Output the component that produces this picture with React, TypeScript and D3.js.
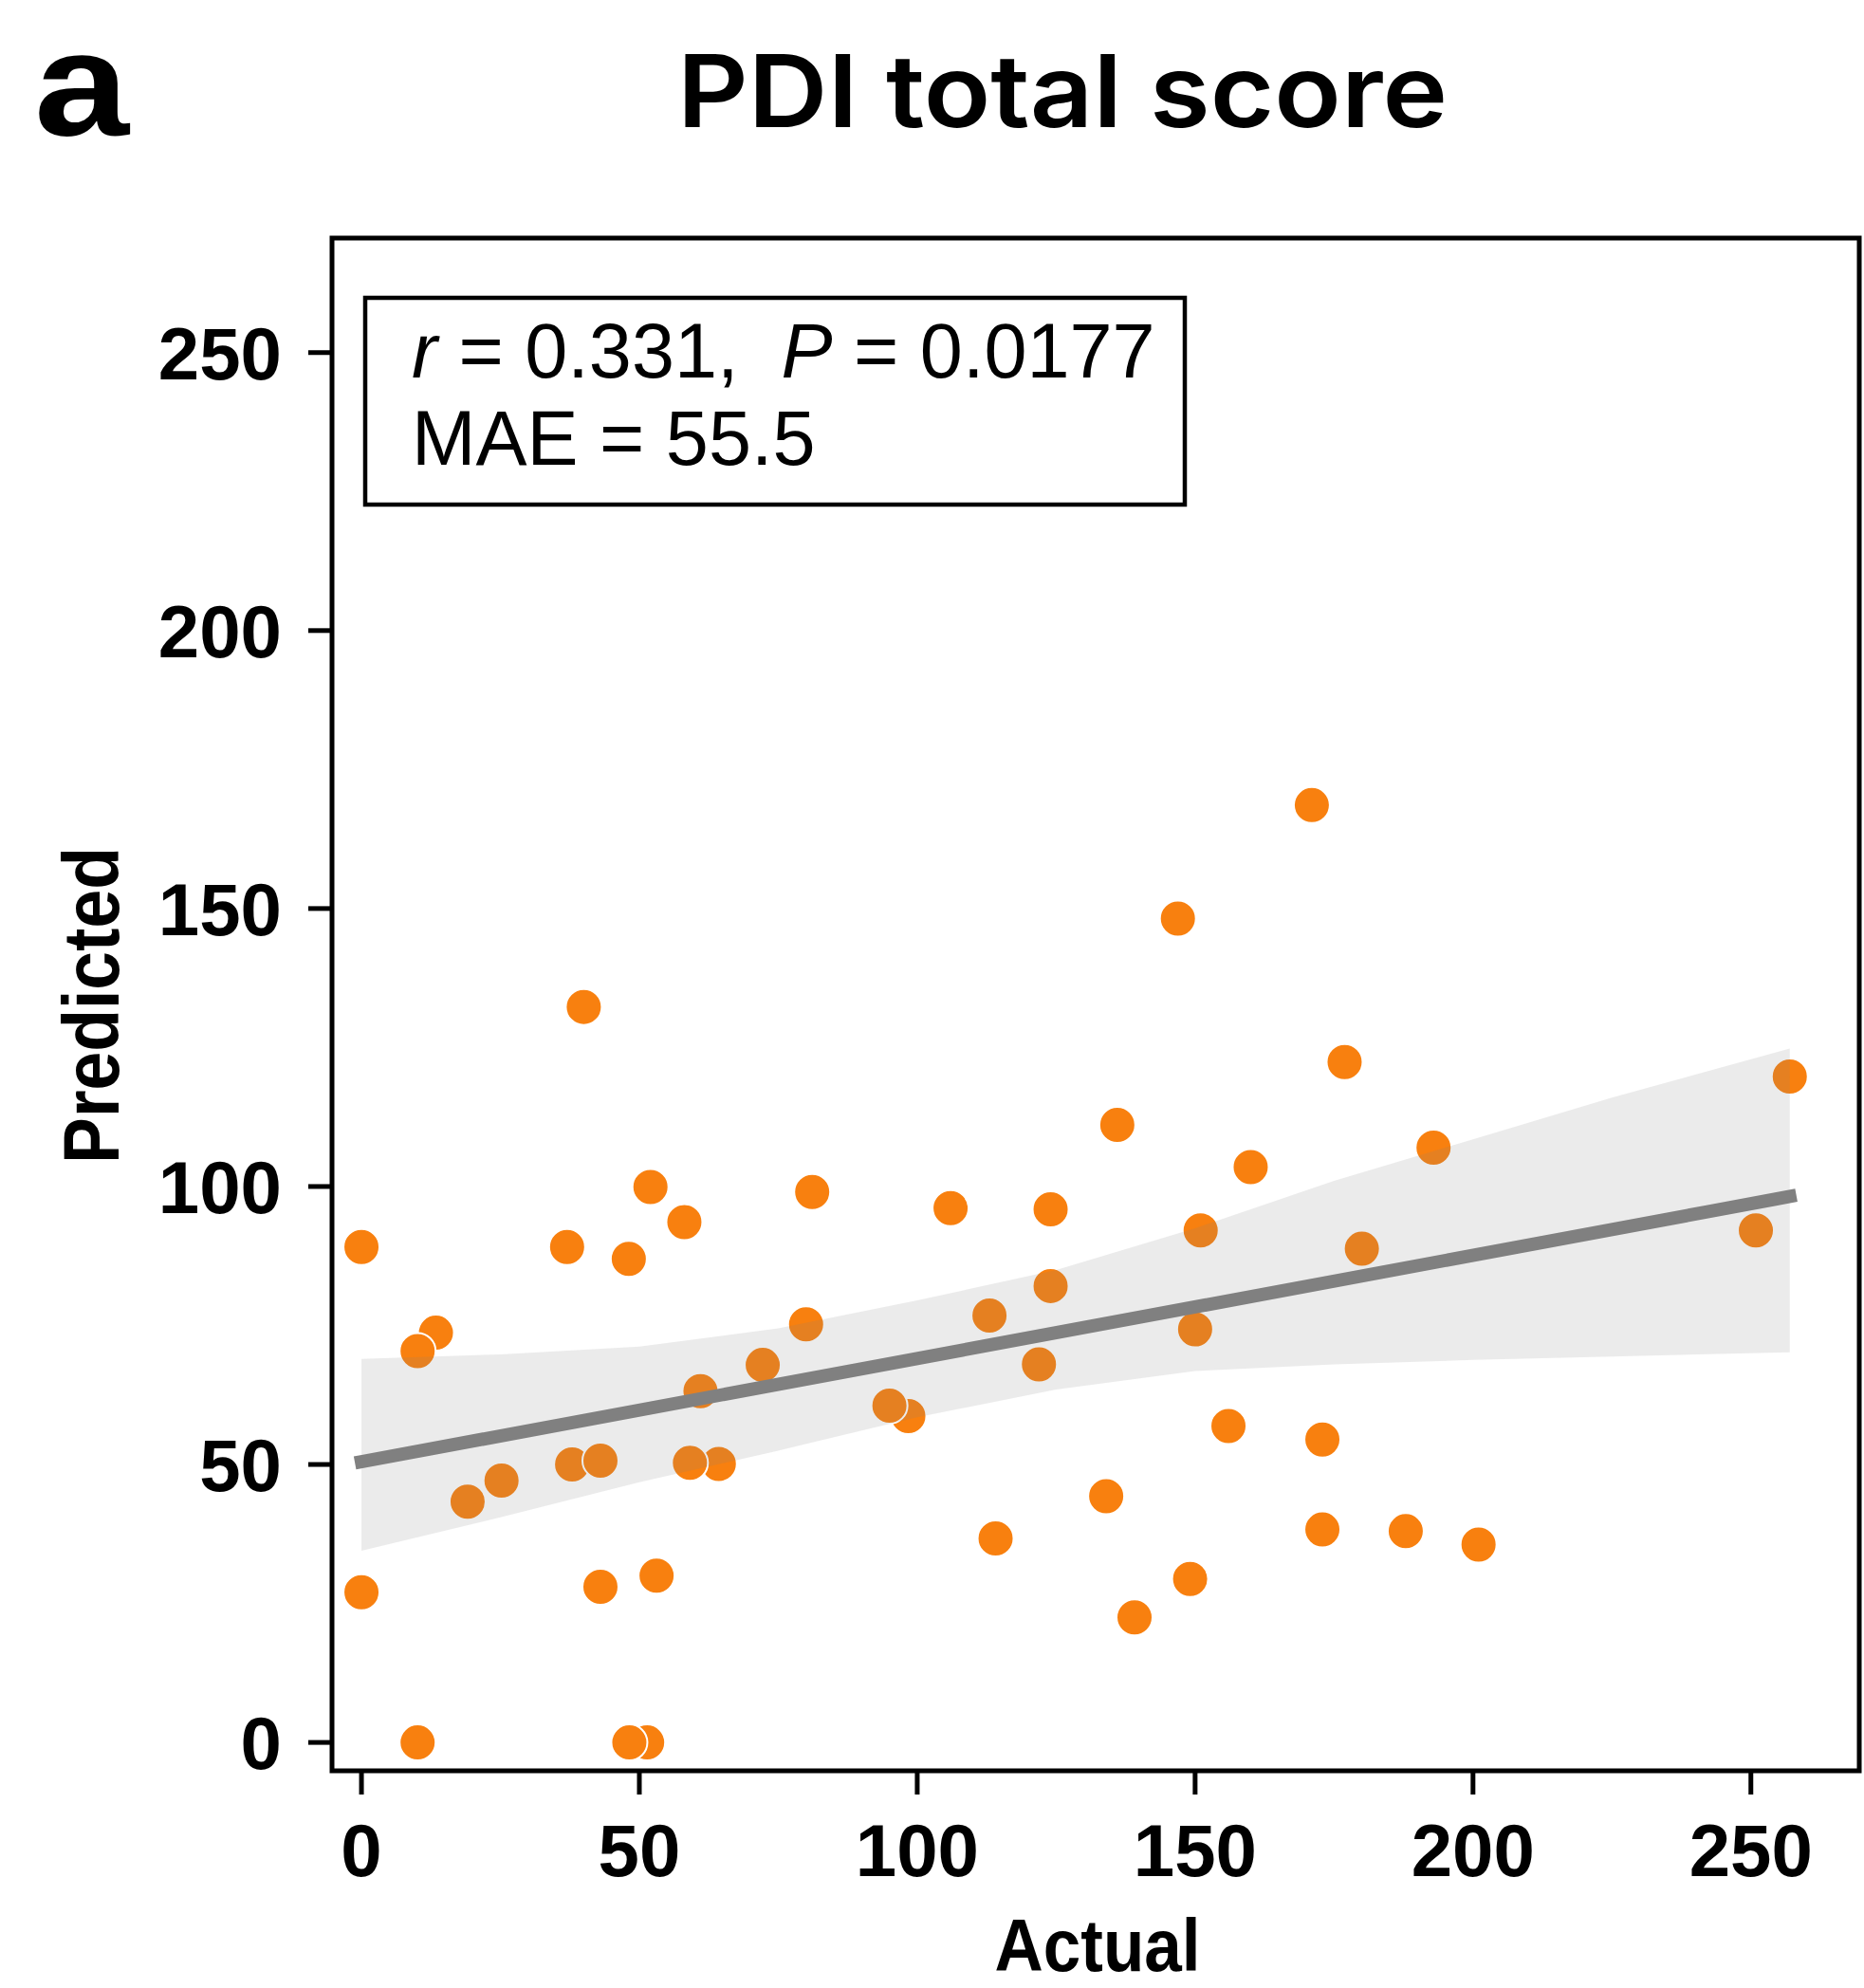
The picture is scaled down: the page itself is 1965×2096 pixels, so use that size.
import React from "react";
import * as d3 from "d3";

// ---- data ----
const actual = [
  0, 0, 13.4, 10.1, 10.1, 19.1, 25.2, 37, 40, 37.9, 43, 43, 48.1, 51.4, 48.2, 52, 53.1,
  58.1, 64.3, 59.1, 61, 72.2, 80, 81.1, 98.4, 95, 106, 113, 114.1, 121.9, 124, 124, 134,
  136, 139.1, 146.9, 149.1, 150, 151, 156, 160, 171, 172.9, 172.9, 176.9, 180, 187.9,
  192.9, 201, 250.9, 257,
];
const predicted = [
  89.1, 27.0, 73.7, 70.4, 0, 43.3, 47.1, 89.1, 132.3, 50, 50.7, 28, 87, 0, 0, 99.9, 30,
  93.6, 50.1, 50.3, 63.2, 67.9, 75.2, 99, 58.7, 60.6, 96.1, 76.8, 36.7, 68, 82.1, 95.9,
  44.3, 111.1, 22.5, 148.2, 29.4, 74.3, 92.1, 56.9, 103.5, 168.6, 38.3, 54.5, 122.4,
  88.8, 38, 107, 35.6, 92.1, 119.8,
];
// regression line (endpoints) and its confidence band
const fitX = [0, 257];
const fitY = [50.5, 98.2];
const ciX = [0, 25, 50, 75, 100, 125, 150, 175, 200, 225, 257];
const ciUpper = [69, 69.8, 71.2, 74.5, 79.5, 85, 92.5, 101, 108.5, 116, 124.8];
const ciLower = [34.5, 40.5, 46.8, 52.5, 58.5, 63.5, 66.8, 68, 68.8, 69.4, 70.2];

const xTicks = [0, 50, 100, 150, 200, 250];
const yTicks = [0, 50, 100, 150, 200, 250];

const title = "PDI total score";
const panelLabel = "a";
const xLabel = "Actual";
const yLabel = "Predicted";
const statR = "0.331";
const statP = "0.0177";
const statMAE = "55.5";

const FONT = "'Liberation Sans', Arial, Helvetica, sans-serif";
const TITLE_FONT = "Inter, 'Liberation Sans', Arial, sans-serif";

export default function App() {
  const W = 1965;
  const H = 2096;
  const left = 350, right = 1960, top = 251, bottom = 1867;
  const x = d3.scaleLinear().domain([-5.3, 269.5]).range([left, right]);
  const y = d3.scaleLinear().domain([-5.1, 270.6]).range([bottom, top]);

  const bandData = ciX.map((v, i) => ({ x: v, lo: ciLower[i], hi: ciUpper[i] }));
  const area = d3
    .area<{ x: number; lo: number; hi: number }>()
    .x((d) => x(d.x))
    .y0((d) => y(d.lo))
    .y1((d) => y(d.hi));
  const line = d3
    .line<number>()
    .x((_, i) => x(fitX[i]))
    .y((d) => y(d));

  return (
    <svg
      width={W}
      height={H}
      style={{ position: "absolute", left: 0, top: 0, background: "#fff" }}
      fontFamily={FONT}
    >
      <rect x={0} y={0} width={W} height={H} fill="#fff" />
      {/* panel label and title */}
      <text
        x={36}
        y={141.5}
        fontSize={156}
        fontWeight="bold"
        textLength={100}
        lengthAdjust="spacingAndGlyphs"
        fill="#000"
      >
        {panelLabel}
      </text>
      <text
        x={1120}
        y={134}
        fontSize={106}
        fontWeight={600}
        fontFamily={TITLE_FONT}
        textAnchor="middle"
        textLength={812}
        lengthAdjust="spacingAndGlyphs"
        fill="#000"
      >
        {title}
      </text>

      {/* points */}
      <g>
        {actual.map((a, i) => (
          <circle
            key={i}
            cx={x(a)}
            cy={y(predicted[i])}
            r={19}
            fill="#f8800f"
            stroke="#fff"
            strokeWidth={2}
          />
        ))}
      </g>

      {/* CI band and regression line */}
      <path d={area(bandData) || ""} fill="#808080" fillOpacity={0.16} stroke="none" />
      <path
        d={line(fitY) || ""}
        fill="none"
        stroke="#808080"
        strokeWidth={14}
        strokeLinecap="square"
      />

      {/* frame */}
      <rect
        x={left}
        y={top}
        width={right - left}
        height={bottom - top}
        fill="none"
        stroke="#000"
        strokeWidth={5}
      />

      {/* y axis ticks */}
      {yTicks.map((t) => (
        <g key={"y" + t}>
          <line x1={left - 25} x2={left} y1={y(t)} y2={y(t)} stroke="#000" strokeWidth={5} />
          <text
            x={297}
            y={y(t) + 28}
            fontSize={78}
            fontWeight="bold"
            textAnchor="end"
            fill="#000"
          >
            {t}
          </text>
        </g>
      ))}
      {/* x axis ticks */}
      {xTicks.map((t) => (
        <g key={"x" + t}>
          <line x1={x(t)} x2={x(t)} y1={bottom} y2={bottom + 25} stroke="#000" strokeWidth={5} />
          <text
            x={x(t)}
            y={1978}
            fontSize={78}
            fontWeight="bold"
            textAnchor="middle"
            fill="#000"
          >
            {t}
          </text>
        </g>
      ))}

      {/* axis labels */}
      <text
        x={1157}
        y={2078}
        fontSize={78}
        fontWeight="bold"
        textAnchor="middle"
        textLength={217}
        lengthAdjust="spacingAndGlyphs"
        fill="#000"
      >
        {xLabel}
      </text>
      <text
        transform={`translate(125, 1060) rotate(-90)`}
        fontSize={84}
        fontWeight="bold"
        textAnchor="middle"
        textLength={334}
        lengthAdjust="spacingAndGlyphs"
        fill="#000"
      >
        {yLabel}
      </text>

      {/* stats box */}
      <rect x={385} y={314} width={864} height={218} fill="#fff" stroke="#000" strokeWidth={4.5} />
      <text x={434} y={398} fontSize={81} fill="#000">
        <tspan fontStyle="italic">r</tspan>
        <tspan>{` = ${statR},\u00a0\u00a0`}</tspan>
        <tspan fontStyle="italic">P</tspan>
        <tspan>{` = ${statP}`}</tspan>
      </text>
      <text x={434} y={490} fontSize={81} fill="#000">
        {`MAE = ${statMAE}`}
      </text>
    </svg>
  );
}
